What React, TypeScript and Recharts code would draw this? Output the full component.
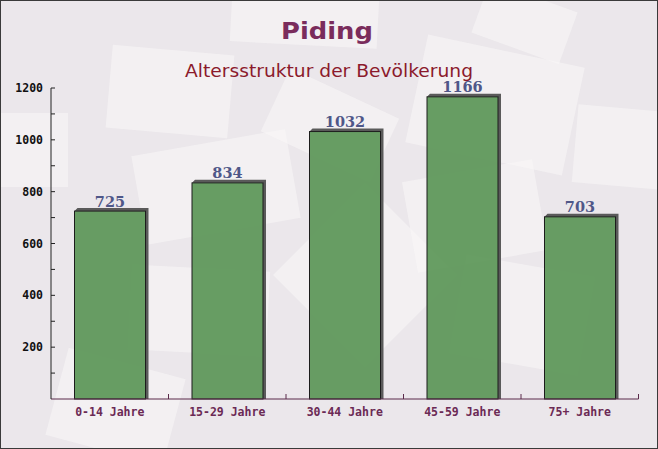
import React from 'react';
import { BarChart, Bar, XAxis, YAxis, LabelList } from 'recharts';

const categories = ['0-14 Jahre', '15-29 Jahre', '30-44 Jahre', '45-59 Jahre', '75+ Jahre'];
const population = [725, 834, 1032, 1166, 703];
const yTicks = [100, 200, 300, 400, 500, 600, 700, 800, 900, 1000, 1100, 1200];

const data = categories.map((name, i) => ({ name, value: population[i] }));

// faint "envelope" shapes in the background
const envelopes = [
  { x: 109, y: 50, w: 122, h: 83, r: 5 },
  { x: 138, y: 142, w: 156, h: 90, r: -10 },
  { x: 300, y: 210, w: 130, h: 130, r: 45 },
  { x: 409, y: 170, w: 132, h: 92, r: -10 },
  { x: 457, y: 265, w: 130, h: 100, r: 10 },
  { x: 575, y: 108, w: 90, h: 78, r: 5 },
  { x: -10, y: 113, w: 78, h: 74, r: 0 },
  { x: 130, y: 268, w: 138, h: 85, r: 3 },
  { x: 415, y: 50, w: 160, h: 110, r: 12 },
  { x: 231, y: -5, w: 147, h: 50, r: 3 },
  { x: 478, y: -5, w: 93, h: 55, r: 20 },
  { x: 55, y: 362, w: 121, h: 90, r: 15 },
  { x: 270, y: 90, w: 120, h: 70, r: 25 },
];

const ShadowBar = (props: any) => {
  const { x, y, width, height } = props;
  if (height == null || height <= 0) return null;
  const d = 3;
  const pts = [
    [x + d, y - d],
    [x + width + d, y - d],
    [x + width + d, y + height],
    [x + width, y + height],
    [x + width, y],
    [x, y],
  ]
    .map((p) => p.join(','))
    .join(' ');
  return (
    <g>
      <polygon points={pts} fill="#5a5a5a" />
      <rect x={x} y={y} width={width} height={height} fill="#5b9657" fillOpacity={0.92} stroke="#1c1c1c" strokeWidth={1} />
    </g>
  );
};

const ValueLabel = (props: any) => {
  const { x, y, width, value } = props;
  return (
    <text
      x={x + width / 2}
      y={y - 4.5}
      textAnchor="middle"
      fill="#4f5788"
      fontFamily="DejaVu Serif"
      fontWeight="bold"
      fontSize={14.5}
    >
      {value}
    </text>
  );
};

const YTick = (props: any) => {
  const { x, y, payload } = props;
  const major = payload.value % 200 === 0;
  return (
    <g>
      <line x1={x} x2={x + 4} y1={y} y2={y} stroke="#222" />
      {major && (
        <text
          x={x - 8}
          y={y + 4}
          textAnchor="end"
          fill="#111"
          fontFamily="DejaVu Sans Mono"
          fontWeight="bold"
          fontSize={11.5}
        >
          {payload.value}
        </text>
      )}
    </g>
  );
};

const XTick = (props: any) => {
  const { x, y, payload, width, visibleTicksCount } = props;
  const band = width && visibleTicksCount ? width / visibleTicksCount : 117.5;
  const bx = x + band / 2;
  return (
    <g>
      <line x1={bx} x2={bx} y1={y} y2={y - 5} stroke="#5a2a4a" />
      <text
        x={x}
        y={y + 17}
        textAnchor="middle"
        fill="#6b2a55"
        fontFamily="DejaVu Sans Mono"
        fontWeight="bold"
        fontSize={11.5}
      >
        {payload.value}
      </text>
    </g>
  );
};

export default function App() {
  return (
    <div style={{ position: 'absolute', left: 0, top: 0, width: 658, height: 449 }}>
      <style>{`body{margin:0}`}</style>
      <svg width={658} height={449} style={{ position: 'absolute', left: 0, top: 0 }}>
        <rect x={0} y={0} width={658} height={449} fill="#ebe7eb" />
        {envelopes.map((e, i) => (
          <rect
            key={i}
            x={e.x}
            y={e.y}
            width={e.w}
            height={e.h}
            fill="#faf8f8"
            fillOpacity={0.55}
            transform={`rotate(${e.r} ${e.x + e.w / 2} ${e.y + e.h / 2})`}
          />
        ))}
        <text x={327} y={39} textAnchor="middle" fill="#7a2c5c" fontFamily="DejaVu Sans" fontWeight="bold" fontSize={22.5} textLength={92} lengthAdjust="spacingAndGlyphs">
          Piding
        </text>
        <text x={329} y={76.5} textAnchor="middle" fill="#8b1a2c" fontFamily="DejaVu Sans" fontSize={18.5} textLength={288} lengthAdjust="spacingAndGlyphs">
          Altersstruktur der Bevölkerung
        </text>
        <rect x={0.5} y={0.5} width={657} height={448} fill="none" stroke="#3a3a3a" />
      </svg>
      <div style={{ position: 'absolute', left: 0, top: 0 }}>
        <BarChart
          width={658}
          height={449}
          data={data}
          margin={{ top: 88, right: 19.5, bottom: 20, left: 1 }}
          barCategoryGap="20%"
        >
          <XAxis
            dataKey="name"
            height={30}
            stroke="#5a2a4a"
            tickLine={false}
            tickSize={0}
            tickMargin={0}
            interval={0}
            tick={<XTick />}
          />
          <YAxis
            width={50}
            domain={[0, 1200]}
            ticks={yTicks}
            interval={0}
            stroke="#222"
            tickLine={false}
            tickSize={0}
            tickMargin={0}
            tick={<YTick />}
          />
          <Bar dataKey="value" shape={<ShadowBar />} isAnimationActive={false}>
            <LabelList dataKey="value" content={<ValueLabel />} />
          </Bar>
        </BarChart>
      </div>
    </div>
  );
}
